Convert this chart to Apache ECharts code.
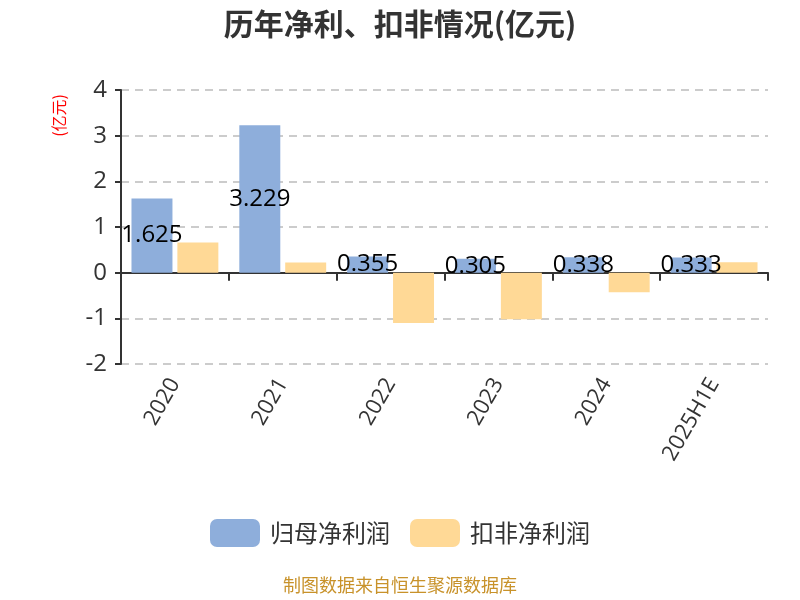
<!DOCTYPE html>
<html><head><meta charset="utf-8">
<script src="https://cdn.jsdelivr.net/npm/echarts@6/dist/echarts.min.js"></script>
<style>html,body{margin:0;padding:0;background:#fff}#c{width:800px;height:600px}</style>
</head><body><div id="c"></div>
<script>
const categories = ['2020','2021','2022','2023','2024','2025H1E'];
const netProfit = [1.625, 3.229, 0.355, 0.305, 0.338, 0.333];
const deductedProfit = [0.66, 0.22, -1.10, -1.02, -0.43, 0.23];
const yTicks = [-2, -1, 0, 1, 2, 3, 4];
const seriesNames = ['归母净利润', '扣非净利润'];

const chart = echarts.init(document.getElementById('c'));
const font = '"Open Sans", "Noto Sans CJK SC", sans-serif';
const cjk = '"Noto Sans CJK SC", sans-serif';
chart.setOption({
  animation: false,
  textStyle: {fontFamily: font},
  title: {text: '历年净利、扣非情况(亿元)', left: 'center', top: 4,
    textStyle: {fontSize: 30, fontWeight: 'bold', color: '#333', fontFamily: cjk}},
  legend: {bottom: 48, itemWidth: 50, itemHeight: 28, itemGap: 20,
    textStyle: {fontSize: 24, color: '#333', fontFamily: cjk, padding: [0, 0, 0, 5]}, data: seriesNames},
  grid: {left: 121, right: 32, top: 90, bottom: 236},
  graphic: [
    {type: 'text', left: 51, top: 94, rotation: Math.PI/2,
     style: {text: '(亿元)', fill: 'red', fontSize: 16, fontFamily: cjk}},
    {type: 'text', left: 'center', top: 576,
     style: {text: '制图数据来自恒生聚源数据库', fill: '#c8922a', fontSize: 18, fontFamily: cjk}}
  ],
  xAxis: {type: 'category', data: categories,
    axisLine: {onZero: true, lineStyle: {color: '#333', width: 2}},
    axisTick: {show: true, length: 8, lineStyle: {color: '#333', width: 2}},
    axisLabel: {rotate: 60, fontSize: 22, color: '#333', margin: 16, interval: 0, fontFamily: font}},
  yAxis: {type: 'value', min: yTicks[0], max: yTicks[yTicks.length-1], interval: 1,
    axisLine: {show: true, lineStyle: {color: '#333', width: 2}},
    axisTick: {show: true, length: 6, lineStyle: {color: '#333', width: 2}},
    axisLabel: {fontSize: 24, color: '#333', fontFamily: font, margin: 14},
    splitLine: {lineStyle: {type: [8, 6], color: '#ccc', width: 2}}},
  series: [
    {name: seriesNames[0], type: 'bar', data: netProfit, barWidth: '38%', barGap: '12%',
     itemStyle: {color: '#8eaedb'},
     label: {show: true, position: 'inside', fontSize: 24, color: '#000', fontFamily: font}},
    {name: seriesNames[1], type: 'bar', data: deductedProfit, barWidth: '38%',
     itemStyle: {color: '#ffd996'}}
  ]
});
</script></body></html>
